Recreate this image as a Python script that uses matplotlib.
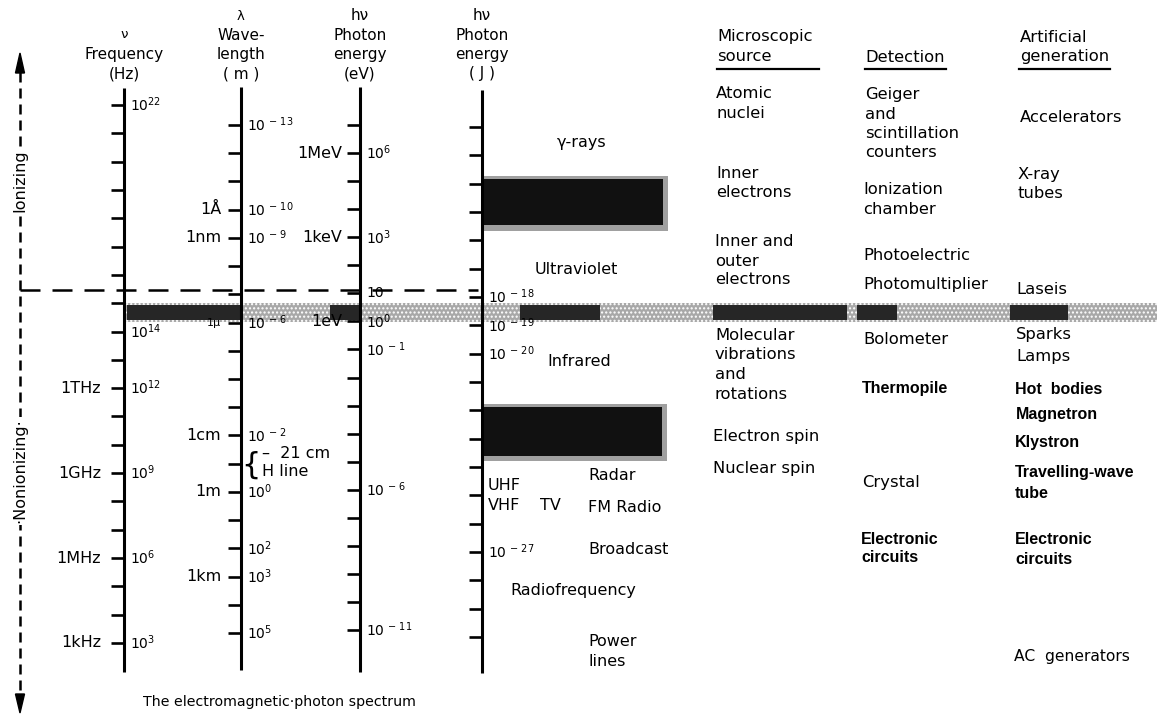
import matplotlib
matplotlib.use('Agg')
import matplotlib.pyplot as plt
from matplotlib.patches import Rectangle

plt.rcParams['font.family'] = ['DejaVu Sans']
plt.rcParams['mathtext.fontset'] = 'dejavusans'

# ---------------- data ----------------
# frequency scale (log10 Hz)
freq_ticks = list(range(3, 23))
freq_labelled = [22, 14, 12, 9, 6, 3]
freq_named = ['1THz', '1GHz', '1MHz', '1kHz']
freq_named_at = [12, 9, 6, 3]
freq_extent = [1.98, 22.6]

# wavelength scale (log10 m)
wave_ticks = list(range(-13, 6))
wave_labelled = [-13, -10, -9, -6, -2, 0, 2, 3, 5]
wave_named = ['1Å', '1nm', '1μ', '1cm', '1m', '1km']
wave_named_at = [-10, -9, -6, -2, 0, 3]
wave_extent = [-14.35, 6.3]

# photon energy scale (log10 eV)
ev_ticks = list(range(-11, 8))
ev_labelled = [6, 3, 1, 0, -1, -6, -11]
ev_named = ['1MeV', '1keV', '1eV']
ev_named_at = [6, 3, 0]
ev_extent = [-12.5, 8.35]

# photon energy scale (log10 J)
j_ticks = list(range(-30, -11))
j_labelled = [-18, -19, -20, -27]
j_extent = [-31.27, -10.7]

# shaded bands, in log10 Hz
band_names = ['x-ray / gamma', 'visible', 'microwave']
band_lo = [17.6, 14.34, 9.46]
band_hi = [19.45, 15.0, 11.4]
ionizing_boundary = 15.47   # log10 Hz

# ---------------- layout ----------------
W, H = 1159, 715
fig = plt.figure(figsize=(W / 100, H / 100), dpi=100)


def make_axes(v_a, p_a, v_b, p_b):
    """Axes over the whole figure whose y value v_a sits p_a px from the top."""
    k = (v_b - v_a) / (p_b - p_a)
    top = v_a - k * p_a
    bottom = v_a + k * (H - p_a)
    a = fig.add_axes([0, 0, 1, 1])
    a.set_xlim(0, W)
    a.set_ylim(bottom, top)
    a.axis('off')
    a.patch.set_alpha(0)
    return a


lay = make_axes(0, 0, H, H)            # pixel layout axes for annotations
ax_f = make_axes(22, 105, 3, 643)      # frequency
ax_w = make_axes(-13, 125, 5, 633)     # wavelength
ax_e = make_axes(7, 125, -11, 630)     # eV
ax_j = make_axes(-12, 127, -30, 637)   # J

TXT = 11.8
EXP = 10
BOLD = dict(family='Liberation Sans', fontweight='bold', size=11.5)


def exp_label(v):
    if v == 1:
        return '10'
    if v < 0:
        return r'$10^{\,-\,%d}$' % (-v)
    return r'$10^{%d}$' % v


def draw_scale(a, x, ticks, extent, labelled, named, named_at, named_off):
    a.plot([x, x], extent, color='k', lw=2.2, solid_capstyle='butt', zorder=5)
    a.hlines(ticks, x - 13, x, color='k', lw=1.9, zorder=5)
    for v in labelled:
        a.text(x + 6, v, exp_label(v), ha='left', va='center', fontsize=EXP, zorder=6)
    for name, v in zip(named, named_at):
        a.text(x - named_off, v, name, ha='right', va='center',
               fontsize=11.5 if name != '1μ' else 8, zorder=6)


draw_scale(ax_f, 124, freq_ticks, freq_extent, freq_labelled, freq_named, freq_named_at, 23)
draw_scale(ax_w, 241, wave_ticks, wave_extent, wave_labelled, wave_named, wave_named_at, 20)
draw_scale(ax_e, 360, ev_ticks, ev_extent, ev_labelled, ev_named, ev_named_at, 18)
draw_scale(ax_j, 482, j_ticks, j_extent, j_labelled, [], [], 18)

# ---------------- bands ----------------
band_x = [(483, 668), (125, 1157), (483, 667)]
for (x0, x1), lo, hi, name in zip(band_x, band_lo, band_hi, band_names):
    if name == 'visible':
        ax_f.add_patch(Rectangle((x0, lo), x1 - x0, hi - lo, facecolor='#a8a8a8',
                                 edgecolor='none', zorder=3))
        ax_f.add_patch(Rectangle((x0, lo), x1 - x0, hi - lo, facecolor='none',
                                 edgecolor='#ffffff', hatch='....', lw=0, zorder=3.1))
        for d0, d1 in [(127, 240), (330, 362), (520, 600), (713, 847), (857, 897), (1010, 1068)]:
            ax_f.add_patch(Rectangle((d0, lo + 0.05), d1 - d0, hi - lo - 0.1,
                                     facecolor='#262626', edgecolor='none', zorder=3.2))
    else:
        ax_f.add_patch(Rectangle((x0, lo - 0.05), x1 - x0, hi - lo + 0.08,
                                 facecolor='#a0a0a0', edgecolor='none', zorder=3))
        ax_f.add_patch(Rectangle((x0, lo + 0.15), x1 - x0 - 5, hi - lo - 0.2,
                                 facecolor='#111111', edgecolor='none', zorder=3.2))

# ---------------- ionizing boundary & side arrow ----------------
ax_f.plot([20, 478], [ionizing_boundary] * 2, color='k', lw=1.8,
          ls=(0, (8, 4.8)), zorder=4)
lay.plot([20, 20], [72, 695], color='k', lw=1.8, ls=(0, (4, 2.4)), zorder=4)
lay.fill([15.5, 24.5, 20], [73, 73, 53], color='k', zorder=4)
lay.fill([15.5, 24.5, 20], [694, 694, 713], color='k', zorder=4)
for txt, y in [('Ionizing', 181), ('·Nonionizing·', 471)]:
    lay.text(20, y, txt, rotation=90, ha='center', va='center', fontsize=11.5,
             zorder=6, bbox=dict(facecolor='white', edgecolor='none', pad=1.5))

# ---------------- headers ----------------
headers = [
    (124, ['ν', 'Frequency', '(Hz)'], 35),
    (241, ['λ', 'Wave-', 'length', '( m )'], 16),
    (360, ['hν', 'Photon', 'energy', '(eV)'], 16),
    (482, ['hν', 'Photon', 'energy', '( J )'], 16),
]
for x, lines, y0 in headers:
    for i, s in enumerate(lines):
        lay.text(x, y0 + 19.3 * i, s, ha='center', va='center',
                 fontsize=11 if i > 0 or s == 'hν' else 9.5)


def block(x, y0, text, bold=False, step=19.5, size=TXT):
    kw = dict(BOLD) if bold else dict(size=size)
    for i, s in enumerate(text.split('\n')):
        lay.text(x, y0 + step * i, s, ha='left', va='center', zorder=6, **kw)


# spectrum region names
R = 11.5
block(557, 143, 'γ-rays', size=R)
block(535, 270, 'Ultraviolet', size=R)
block(547, 362, 'Infrared', size=R)
block(588, 476, 'Radar', size=R)
block(488, 485, 'UHF', size=R)
block(488, 506, 'VHF', size=R)
block(540, 506, 'TV', size=R)
block(588, 507, 'FM Radio', size=R)
block(588, 550, 'Broadcast', size=R)
block(510, 590, 'Radiofrequency', size=R)
block(588, 642, 'Power\nlines', step=20, size=R)

# 21 cm hydrogen line
lay.text(251, 465, '{', fontsize=22, ha='center', va='center')
block(262, 453, '–  21 cm', size=11.5)
block(262, 471, 'H line', step=18, size=11.5)

# right-hand columns
block(717, 37, 'Microscopic\nsource')
block(865, 57, 'Detection')
block(1020, 37, 'Artificial\ngeneration')
for x0, x1 in [(717, 819), (865, 946), (1019, 1110)]:
    lay.plot([x0, x1], [69, 69], color='k', lw=1.6)

block(716, 94, 'Atomic\nnuclei')
block(716, 173, 'Inner\nelectrons')
block(715, 242, 'Inner and\nouter\nelectrons', step=19)
block(715, 335, 'Molecular\nvibrations\nand\nrotations', step=19.7)
block(713, 436, 'Electron spin')
block(713, 469, 'Nuclear spin')

block(865, 95, 'Geiger\nand\nscintillation\ncounters', step=19.3)
block(863, 190, 'Ionization\nchamber')
block(863, 256, 'Photoelectric')
block(863, 285, 'Photomultiplier')
block(863, 339, 'Bolometer')
block(862, 389, 'Thermopile', bold=True)
block(862, 483, 'Crystal')
block(861, 539, 'Electronic\ncircuits', bold=True, step=19)

block(1020, 117, 'Accelerators')
block(1018, 174, 'X-ray\ntubes')
block(1016, 290, 'Laseis')
block(1016, 335, 'Sparks\nLamps', step=21)
block(1015, 390, 'Hot  bodies', bold=True)
block(1016, 415, 'Magnetron', bold=True)
block(1015, 442, 'Klystron', bold=True)
block(1015, 473, 'Travelling-wave\ntube', bold=True, step=20)
block(1015, 540, 'Electronic\ncircuits', bold=True, step=19)
block(1014, 657, 'AC  generators', size=11.2)

# caption
block(143, 702, 'The electromagnetic·photon spectrum', size=10.2)

fig.savefig('out.png', dpi=100, facecolor='white')
